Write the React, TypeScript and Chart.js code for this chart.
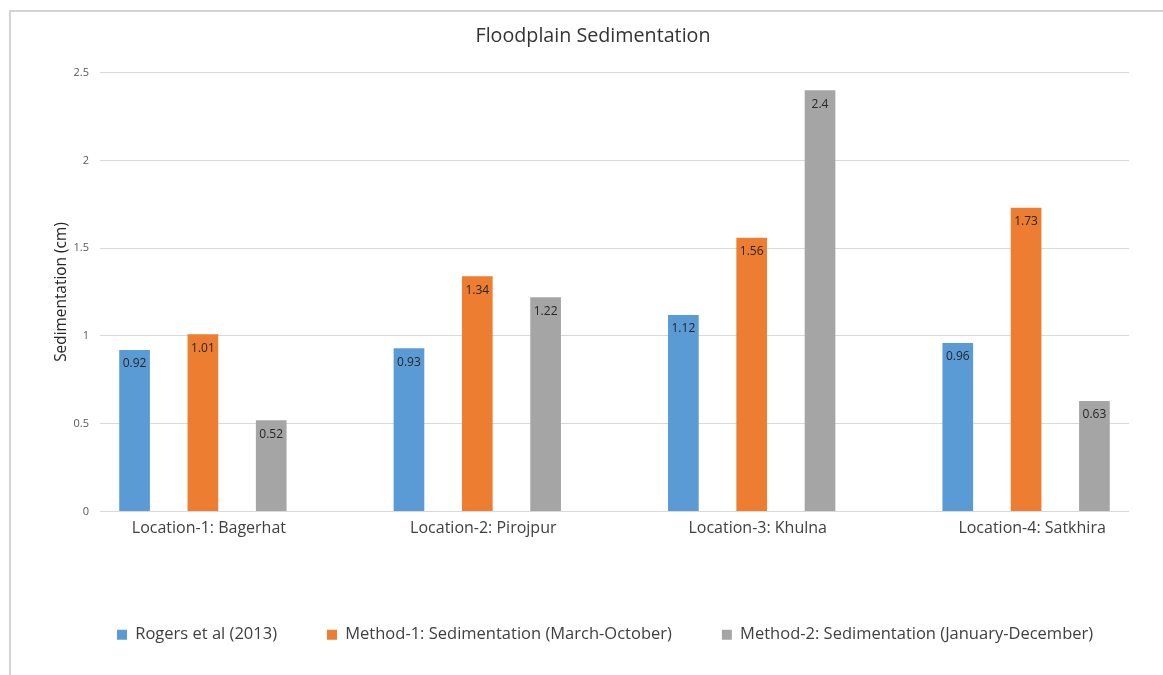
import React, { useEffect, useRef } from "react";
import { Chart, registerables } from "chart.js";

Chart.register(...registerables);

const categories = [
  "Location-1: Bagerhat",
  "Location-2: Pirojpur",
  "Location-3: Khulna",
  "Location-4: Satkhira",
];
const seriesNames = [
  "Rogers et al (2013)",
  "Method-1: Sedimentation (March-October)",
  "Method-2: Sedimentation (January-December)",
];
const rogers = [0.92, 0.93, 1.12, 0.96];
const method1 = [1.01, 1.34, 1.56, 1.73];
const method2 = [0.52, 1.22, 2.4, 0.63];
const seriesColors = ["#5B9BD5", "#ED7D31", "#A5A5A5"];
const yTicks = [0, 0.5, 1, 1.5, 2, 2.5];

const FONT = "'Open Sans', sans-serif";

const borderPlugin = {
  id: "frameBorder",
  beforeDraw(chart: any) {
    const ctx = chart.ctx;
    ctx.save();
    ctx.fillStyle = "#ffffff";
    ctx.fillRect(0, 0, chart.width, chart.height);
    ctx.strokeStyle = "#d4d4d4";
    ctx.lineWidth = 2;
    ctx.beginPath();
    ctx.moveTo(10, chart.height);
    ctx.lineTo(10, 11);
    ctx.lineTo(chart.width, 11);
    ctx.stroke();
    ctx.restore();
  },
};

// centre the title over the framed region rather than the padded layout box
const titleShiftPlugin = {
  id: "titleShift",
  afterLayout(chart: any) {
    const tb = chart.titleBlock;
    if (tb) {
      tb.left = 23;
    }
  },
};

const valueLabelPlugin = {
  id: "valueLabels",
  afterDatasetsDraw(chart: any) {
    const ctx = chart.ctx;
    ctx.save();
    ctx.font = `12px ${FONT}`;
    ctx.fillStyle = "#262626";
    ctx.textAlign = "center";
    ctx.textBaseline = "middle";
    chart.data.datasets.forEach((ds: any, di: number) => {
      const meta = chart.getDatasetMeta(di);
      meta.data.forEach((el: any, i: number) => {
        const v = ds.data[i].y;
        ctx.fillText(String(v), el.x, el.y + 14);
      });
    });
    ctx.restore();
  },
};

export default function App() {
  const canvasRef = useRef<HTMLCanvasElement | null>(null);

  useEffect(() => {
    if (!canvasRef.current) return;
    const allSeries = [rogers, method1, method2];
    const chart = new Chart(canvasRef.current, {
      type: "bar",
      data: {
        datasets: allSeries.map((vals, si) => ({
          label: seriesNames[si],
          data: vals.map((v, i) => ({ x: i, y: v })),
          backgroundColor: seriesColors[si],
          borderWidth: 0,
          categoryPercentage: 0.747,
          barPercentage: 0.449,
        })),
      },
      options: {
        responsive: false,
        animation: false,
        maintainAspectRatio: false,
        layout: { padding: { left: 67, right: 0, top: 0, bottom: 22 } },
        plugins: {
          tooltip: { enabled: false },
          title: {
            display: true,
            text: "Floodplain Sedimentation",
            color: "#333333",
            font: { family: FONT, size: 19.7, weight: "normal" },
            padding: { top: 25, bottom: 24 },
          },
          legend: {
            position: "bottom",
            align: "start",
            labels: {
              boxWidth: 10,
              boxHeight: 10,
              padding: 50,
              color: "#404040",
              font: { family: FONT, size: 16.5 },
            },
          },
        },
        scales: {
          x: {
            type: "linear",
            min: -0.375,
            max: 3.375,
            offset: false,
            grid: { display: false, drawTicks: false },
            border: { display: false },
            ticks: {
              stepSize: 1,
              includeBounds: false,
              autoSkip: false,
              maxRotation: 0,
              padding: 7,
              labelOffset: 6,
              color: "#404040",
              font: { family: FONT, size: 16 },
              callback: (v: any) => categories[Math.round(Number(v))] ?? "",
            },
            afterFit: (s: any) => {
              s.height = 65;
            },
          },
          y: {
            min: 0,
            max: 2.5,
            grid: { color: "#d9d9d9", lineWidth: 1, drawTicks: false },
            border: { display: false },
            afterBuildTicks: (s: any) => {
              s.ticks = yTicks.map((v) => ({ value: v }));
            },
            ticks: {
              padding: 11,
              color: "#595959",
              font: { family: FONT, size: 11 },
              callback: (v: any) => String(v),
            },
            title: {
              display: true,
              text: "Sedimentation (cm)",
              color: "#262626",
              font: { family: FONT, size: 15.4 },
              padding: { top: -15, bottom: 0 },
            },
            afterFit: (s: any) => {
              s.width = 33;
            },
          },
          yRightSpace: {
            type: "linear",
            position: "right",
            min: 0,
            max: 2.5,
            grid: { display: false, drawTicks: false },
            border: { display: false },
            ticks: { display: false },
            afterFit: (s: any) => {
              s.width = 34;
            },
          },
        },
      },
      plugins: [borderPlugin, titleShiftPlugin, valueLabelPlugin],
    } as any);
    return () => chart.destroy();
  }, []);

  return (
    <div style={{ position: "fixed", left: 0, top: 0, width: 1163, height: 675, background: "#fff" }}>
      <canvas ref={canvasRef} width={1163} height={675} style={{ width: 1163, height: 675, display: "block" }} />
    </div>
  );
}
